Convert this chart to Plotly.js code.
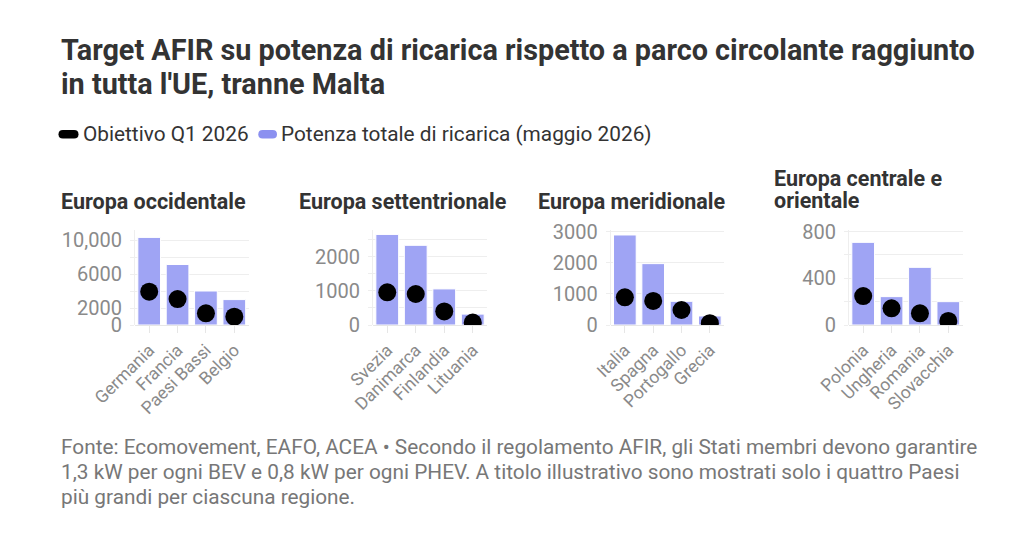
<!DOCTYPE html>
<html>
<head>
<meta charset="utf-8">
<script src="https://cdn.plot.ly/plotly-3.0.1.min.js"></script>
<style>html,body{margin:0;padding:0;background:#fff;}#chart{width:1024px;height:539px;}</style>
</head>
<body>
<div id="chart"></div>
<script>
// ---- data ----
const regions = ["Europa occidentale", "Europa settentrionale", "Europa meridionale", "Europa centrale e<br>orientale"];
const countriesWest = ["Germania", "Francia", "Paesi Bassi", "Belgio"];
const countriesNorth = ["Svezia", "Danimarca", "Finlandia", "Lituania"];
const countriesSouth = ["Italia", "Spagna", "Portogallo", "Grecia"];
const countriesEast = ["Polonia", "Ungheria", "Romania", "Slovacchia"];

const powerWest = [10310, 7120, 4000, 2990];
const powerNorth = [2660, 2340, 1060, 320];
const powerSouth = [2890, 1970, 760, 290];
const powerEast = [708, 243, 494, 200];

const targetWest = [3920, 3050, 1370, 980];
const targetNorth = [960, 910, 397, 70];
const targetSouth = [890, 772, 482, 60];
const targetEast = [248, 143, 100, 35];

const tickValsWest = [0, 2000, 4000, 6000, 8000, 10000];
const tickTextWest = ["0", "2000", "", "6000", "", "10,000"];
const tickValsNorth = [0, 500, 1000, 1500, 2000, 2500];
const tickTextNorth = ["0", "", "1000", "", "2000", ""];
const tickValsSouth = [0, 1000, 2000, 3000];
const tickTextSouth = ["0", "1000", "2000", "3000"];
const tickValsEast = [0, 200, 400, 600, 800];
const tickTextEast = ["0", "", "400", "", "800"];

const legendLabels = ["Obiettivo Q1 2026", "Potenza totale di ricarica (maggio 2026)"];
const titleLines = ["Target AFIR su potenza di ricarica rispetto a parco circolante raggiunto", "in tutta l'UE, tranne Malta"];
const noteLines = [
  "Fonte: Ecomovement, EAFO, ACEA • Secondo il regolamento AFIR, gli Stati membri devono garantire",
  "1,3 kW per ogni BEV e 0,8 kW per ogni PHEV. A titolo illustrativo sono mostrati solo i quattro Paesi",
  "più grandi per ciascuna regione."
];

// ---- layout helpers ----
const W = 1024, H = 539;
const px = x => x / W;
const py = y => 1 - y / H;

const barColor = "#9fa4f4";
const font = "Roboto, 'Noto Sans', sans-serif";

const panels = [
  {cats: countriesWest, power: powerWest, target: targetWest, tv: tickValsWest, tt: tickTextWest, range: [0, 11180], dom: [135, 248.5], titleX: 59},
  {cats: countriesNorth, power: powerNorth, target: targetNorth, tv: tickValsNorth, tt: tickTextNorth, range: [0, 2790], dom: [373, 487], titleX: 297},
  {cats: countriesSouth, power: powerSouth, target: targetSouth, tv: tickValsSouth, tt: tickTextSouth, range: [0, 3050], dom: [610.7, 724], titleX: 536},
  {cats: countriesEast, power: powerEast, target: targetEast, tv: tickValsEast, tt: tickTextEast, range: [0, 814], dom: [849, 962.5], titleX: 772}
];

const traces = [];
const layout = {
  width: W, height: H,
  margin: {l: 0, r: 0, t: 0, b: 0},
  paper_bgcolor: "#fff", plot_bgcolor: "#fff",
  showlegend: false,
  bargap: 0.2,
  font: {family: font, color: "#333"},
  annotations: [], shapes: []
};

function addText(text, x, baseline, size, color) {
  layout.annotations.push({
    text: text, xref: "paper", yref: "paper",
    x: px(x), y: py(baseline + 0.29 * size), xanchor: "left", yanchor: "bottom",
    showarrow: false, font: {size: size, color: color, family: font}
  });
}

panels.forEach((p, i) => {
  const n = i === 0 ? "" : String(i + 1);
  const xa = "x" + n, ya = "y" + n;
  traces.push({
    type: "bar", x: p.cats, y: p.power, xaxis: xa, yaxis: ya,
    marker: {color: barColor, line: {color: "#ffffff", width: 1}},
    hoverinfo: "x+y"
  });
  traces.push({
    type: "scatter", mode: "markers", x: p.cats, y: p.target, xaxis: xa, yaxis: ya,
    marker: {color: "#000", size: 18},
    cliponaxis: true, hoverinfo: "x+y"
  });
  layout["xaxis" + n] = {
    domain: [px(p.dom[0]), px(p.dom[1])], anchor: ya,
    type: "category", range: [-0.5, 3.5], fixedrange: true,
    tickangle: -45, tickfont: {size: 17.5, color: "#8a8a8a", family: font},
    ticks: "outside", ticklen: 7, tickcolor: "#e6e6e6", tickwidth: 1,
    showline: false, showgrid: false, zeroline: false
  };
  layout["yaxis" + n] = {
    domain: [py(325), py(230)], anchor: xa,
    range: p.range, fixedrange: true,
    tickmode: "array", tickvals: p.tv, ticktext: p.tt,
    tickfont: {size: 20, color: "#8a8a8a", family: font},
    ticks: "outside", ticklen: 4, tickcolor: "#eeeeee",
    showgrid: true, gridcolor: "#eeeeee", gridwidth: 1,
    zeroline: true, zerolinecolor: "#e6e6e6", zerolinewidth: 1,
    showline: true, linecolor: "#eeeeee", linewidth: 1,
    ticklabelstandoff: 4
  };
  const titleParts = regions[i].split("<br>");
  titleParts.forEach((t, k) => {
    const baseline = titleParts.length === 1 ? 209.5 : (k === 0 ? 187 : 209);
    addText("<b>" + t + "</b>", p.titleX, baseline, 21.5, "#333");
  });
});

// Title
titleLines.forEach((t, k) => addText("<b>" + t + "</b>", 59, [61, 94.5][k], 28.8, "#333"));

// Legend
function pill(x0, x1, yc, r, color) {
  const X = v => px(v), Y = v => py(v);
  return {
    type: "path", xref: "paper", yref: "paper",
    path: `M ${X(x0 + r)} ${Y(yc - r)} L ${X(x1 - r)} ${Y(yc - r)} Q ${X(x1)} ${Y(yc - r)} ${X(x1)} ${Y(yc)} Q ${X(x1)} ${Y(yc + r)} ${X(x1 - r)} ${Y(yc + r)} L ${X(x0 + r)} ${Y(yc + r)} Q ${X(x0)} ${Y(yc + r)} ${X(x0)} ${Y(yc)} Q ${X(x0)} ${Y(yc - r)} ${X(x0 + r)} ${Y(yc - r)} Z`,
    fillcolor: color, line: {width: 0}, layer: "above"
  };
}
layout.shapes.push(pill(58.5, 78.5, 134.2, 4.3, "#000"));
layout.shapes.push(pill(258.3, 277, 134.2, 4.3, "#8b90f0"));
addText(legendLabels[0], 80.5, 141.5, 20.8, "#333");
addText(legendLabels[1], 279, 141.5, 20.8, "#333");

// Notes
noteLines.forEach((t, k) => addText(t, 59, [455, 480, 505][k], 20.8, "#777"));

Plotly.newPlot("chart", traces, layout, {displayModeBar: false, staticPlot: true});
</script>
</body>
</html>
